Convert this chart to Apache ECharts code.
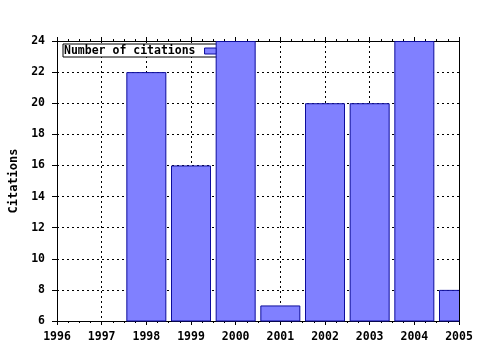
<!DOCTYPE html>
<html>
<head>
<meta charset="utf-8">
<script src="https://cdn.jsdelivr.net/npm/echarts@6/dist/echarts.min.js"></script>
<style>html,body{margin:0;padding:0;background:#fff}#c{width:480px;height:350px}</style>
</head>
<body>
<div id="c"></div>
<script>
var years = [1996, 1997, 1998, 1999, 2000, 2001, 2002, 2003, 2004, 2005];
var citations = [null, null, 22, 16, 24, 7, 20, 20, 24, 8];
var seriesName = 'Number of citations';
var yAxisTitle = 'Citations';

var font = 'DejaVu Sans Mono';
var dotted = { color: '#000', width: 1, type: [2, 3] };
var chart = echarts.init(document.getElementById('c'), null, { renderer: 'canvas' });
chart.setOption({
  animation: false,
  backgroundColor: '#fff',
  grid: { left: 57, right: 21, top: 41, bottom: 29, containLabel: false, outerBoundsMode: 'none' },
  legend: {
    data: [seriesName],
    left: 63, top: 44,
    z: 1,
    align: 'right',
    backgroundColor: '#fff',
    borderColor: '#000', borderWidth: 1,
    padding: [1, 6, 0, 1],
    itemWidth: 12, itemHeight: 6, itemGap: 4,
    icon: 'rect',
    itemStyle: { color: '#8080ff', borderColor: '#0c0c9c', borderWidth: 1 },
    textStyle: { fontFamily: font, fontWeight: 'bold', fontSize: 11.5, color: '#000', padding: [0, 4, 0, 0] }
  },
  graphic: [{
    type: 'rect', z: 4, silent: true,
    shape: { x: 460, y: 0, width: 20, height: 322 },
    style: { fill: '#fff' }
  }],
  xAxis: [{
    type: 'value', min: 1996, max: 2005, interval: 1, position: 'bottom',
    axisLine: { show: true, onZero: false, lineStyle: { color: '#000', width: 1 } },
    axisTick: { show: true, length: 4, lineStyle: { color: '#000' } },
    minorTick: { show: true, splitNumber: 4, length: 2, lineStyle: { color: '#000' } },
    splitLine: { show: true, lineStyle: dotted },
    axisLabel: { formatter: function (v) { return String(v); }, fontFamily: font, fontWeight: 'bold', fontSize: 11.5, color: '#000', margin: 10 }
  }, {
    type: 'value', min: 1996, max: 2005, interval: 1, position: 'top',
    axisLine: { show: true, onZero: false, lineStyle: { color: '#000', width: 1 } },
    axisTick: { show: true, length: 4, lineStyle: { color: '#000' } },
    minorTick: { show: true, splitNumber: 4, length: 2, lineStyle: { color: '#000' } },
    splitLine: { show: false },
    axisLabel: { show: false }
  }],
  yAxis: [{
    type: 'value', min: 6, max: 24, interval: 2, position: 'left',
    name: yAxisTitle, nameLocation: 'middle', nameRotate: 90, nameGap: 36,
    nameTextStyle: { fontFamily: font, fontWeight: 'bold', fontSize: 12, color: '#000' },
    axisLine: { show: true, onZero: false, lineStyle: { color: '#000', width: 1 } },
    axisTick: { show: true, length: 5, lineStyle: { color: '#000' } },
    splitLine: { show: true, lineStyle: dotted },
    axisLabel: { fontFamily: font, fontWeight: 'bold', fontSize: 11.5, color: '#000', margin: 12 }
  }, {
    type: 'value', min: 6, max: 24, interval: 2, position: 'right', z: 6,
    axisLine: { show: true, onZero: false, lineStyle: { color: '#000', width: 1 } },
    axisTick: { show: false },
    splitLine: { show: false },
    axisLabel: { show: false }
  }],
  series: [{
    name: seriesName,
    type: 'bar',
    z: 3,
    clip: true,
    xAxisIndex: 0, yAxisIndex: 0,
    barWidth: 40,
    itemStyle: { color: '#8080ff', borderColor: '#0c0c9c', borderWidth: 1 },
    data: years.map(function (y, i) { return [y, citations[i]]; })
  }]
});
</script>
</body>
</html>
